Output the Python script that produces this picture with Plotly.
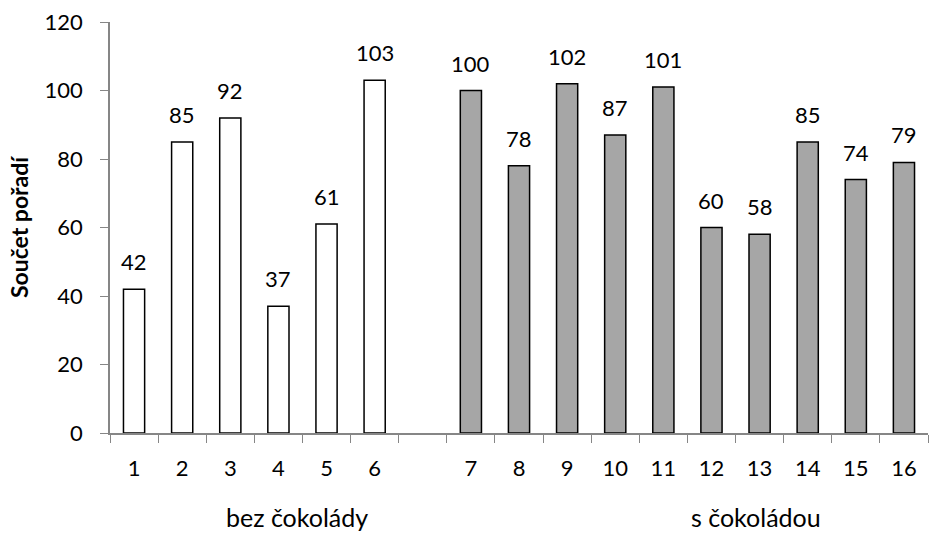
import plotly.graph_objects as go

categories = ["1", "2", "3", "4", "5", "6", " ", "7", "8", "9", "10", "11", "12", "13", "14", "15", "16"]
values = [42, 85, 92, 37, 61, 103, None, 100, 78, 102, 87, 101, 60, 58, 85, 74, 79]
colors = ["white"] * 7 + ["#A6A6A6"] * 10
group_labels = ["bez čokolády", "s čokoládou"]
y_title = "Součet pořadí"

FONT = "Lato"
W, H = 931, 536
ML, MR, MT, MB = 110, 3, 22, 103

fig = go.Figure(go.Bar(
    x=categories,
    y=values,
    marker=dict(color=colors, line=dict(color="black", width=1.5)),
    cliponaxis=False,
    hoverinfo="x+y",
))

for i, v in enumerate(values):
    if v is None:
        continue
    fig.add_annotation(x=i, y=v, text=str(v), showarrow=False, xref="x", yref="y",
                       yanchor="bottom", yshift=12,
                       font=dict(family=FONT, size=22, color="black"))

fig.update_layout(
    width=W, height=H,
    margin=dict(l=ML, r=MR, t=MT, b=MB),
    paper_bgcolor="white", plot_bgcolor="white",
    bargap=0.56,
    showlegend=False,
    font=dict(family=FONT, size=22, color="black"),
)
fig.update_xaxes(
    type="category", categoryorder="array", categoryarray=categories,
    tickson="boundaries", ticks="outside", ticklen=8, tickcolor="#868686",
    showline=True, linecolor="#868686", linewidth=1.5,
    showgrid=False, tickfont=dict(family=FONT, size=22),
    ticklabelstandoff=15,
)
fig.update_yaxes(
    range=[0, 120], dtick=20, ticks="outside", ticklen=8, tickcolor="#868686",
    showline=True, linecolor="#868686", linewidth=1.5, showgrid=False, zeroline=False,
    tickfont=dict(family=FONT, size=22),
    ticklabelstandoff=13,
    title=dict(text="<b>" + y_title + "</b>", font=dict(family=FONT, size=23), standoff=10),
)

def px_to_paper(xp, yp):
    return (xp - ML) / (W - ML - MR), (H - MB - yp) / (H - MT - MB)

for label, xp in zip(group_labels, [297, 756]):
    px, py = px_to_paper(xp, 517)
    fig.add_annotation(x=px, y=py, xref="paper", yref="paper", text=label, showarrow=False,
                       xanchor="center", yanchor="middle",
                       font=dict(family=FONT, size=25))

fig.write_html("out.html")
